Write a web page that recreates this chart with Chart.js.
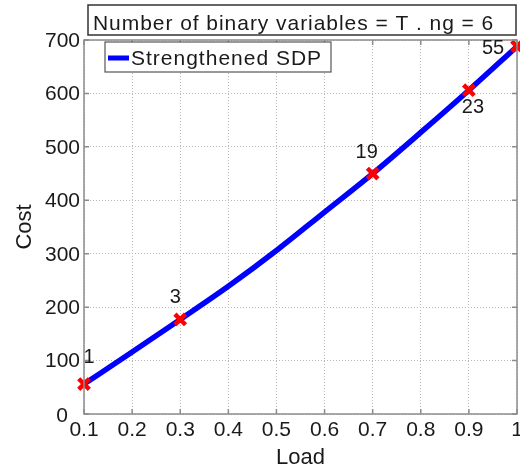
<!DOCTYPE html>
<html>
<head>
<meta charset="utf-8">
<script src="https://cdn.jsdelivr.net/npm/chart.js@4"></script>
<style>
  html, body { margin: 0; padding: 0; background: #fff; }
  #wrap { width: 520px; height: 473px; }
</style>
</head>
<body>
<div id="wrap"><canvas id="cost-chart" width="520" height="473"></canvas></div>
<script>
// Cost vs load for the strengthened SDP relaxation
const loads = [0.1, 0.2, 0.3, 0.4, 0.5, 0.6, 0.7, 0.8, 0.9, 1.0];
const costs = [56, 116, 177, 239, 306, 378, 450, 527, 606, 688];

// Loads where the solver result is marked, with the count shown beside it
const markedLoads = [0.1, 0.3, 0.7, 0.9, 1.0];
const markedCounts = ['1', '3', '19', '23', '55'];

const yTicks = [0, 100, 200, 300, 400, 500, 600, 700];
const boxTitle = 'Number of binary variables = T . ng = 6';
const seriesName = 'Strengthened SDP';

const FONT = '"Liberation Sans", Arial, Helvetica, sans-serif';
const TEXT = '#1a1a1a';
const FRAME = '#8c8c8c';

const curve = loads.map((x, i) => ({ x, y: costs[i] }));
const marks = markedLoads.map(x => ({ x, y: costs[loads.indexOf(x)] }));

// text offsets (px) of each count relative to its marker
const countOffsets = [[5, -27], [-5, -22], [-6, -21], [4, 17], [-24, 2]];

// box title, legend, frame, inward ticks, y labels, counts
const decorations = {
  id: 'decorations',
  afterDraw(chart) {
    const { ctx, chartArea: a, scales: { x, y } } = chart;
    ctx.save();

    // frame
    ctx.strokeStyle = FRAME;
    ctx.lineWidth = 1.5;
    ctx.strokeRect(a.left, a.top, a.right - a.left, a.bottom - a.top);

    // inward ticks
    ctx.beginPath();
    x.ticks.forEach(t => {
      const px = x.getPixelForValue(t.value);
      ctx.moveTo(px, a.bottom); ctx.lineTo(px, a.bottom - 5);
      ctx.moveTo(px, a.top); ctx.lineTo(px, a.top + 5);
    });
    y.ticks.forEach(t => {
      const py = y.getPixelForValue(t.value);
      ctx.moveTo(a.left, py); ctx.lineTo(a.left + 5, py);
      ctx.moveTo(a.right, py); ctx.lineTo(a.right - 5, py);
    });
    ctx.stroke();

    // y tick labels; the zero sits a little off the corner
    ctx.fillStyle = TEXT;
    ctx.font = '21px ' + FONT;
    ctx.textBaseline = 'middle';
    ctx.textAlign = 'right';
    y.ticks.forEach(t => {
      const py = y.getPixelForValue(t.value);
      if (t.value === 0) ctx.fillText('0', a.left - 16, py + 2);
      else ctx.fillText(String(t.value), a.left - 4, py + 1);
    });

    // counts next to the red markers
    ctx.font = '20px ' + FONT;
    ctx.textAlign = 'center';
    const meta = chart.getDatasetMeta(1);
    meta.data.forEach((pt, i) => {
      const [dx, dy] = countOffsets[i];
      ctx.fillText(markedCounts[i], pt.x + dx, pt.y + dy);
    });

    // title box
    const bl = a.left + 4, br = a.right - 1, bt = 5, bb = 35;
    ctx.fillStyle = '#fff';
    ctx.fillRect(bl, bt, br - bl, bb - bt);
    ctx.strokeStyle = '#333';
    ctx.lineWidth = 1.5;
    ctx.strokeRect(bl, bt, br - bl, bb - bt);
    ctx.fillStyle = TEXT;
    ctx.font = '21px ' + FONT;
    ctx.letterSpacing = '0.95px';
    ctx.textAlign = 'left';
    ctx.textBaseline = 'alphabetic';
    ctx.fillText(boxTitle, bl + 5, 29.5);

    // legend
    const ll = 105, lt = 42, lr = 331, lb = 72;
    ctx.fillStyle = '#fff';
    ctx.fillRect(ll, lt, lr - ll, lb - lt);
    ctx.strokeStyle = '#555';
    ctx.lineWidth = 1.2;
    ctx.strokeRect(ll, lt, lr - ll, lb - lt);
    ctx.strokeStyle = '#0000ff';
    ctx.lineWidth = 5;
    ctx.beginPath();
    ctx.moveTo(108, 58); ctx.lineTo(129, 58);
    ctx.stroke();
    ctx.fillStyle = TEXT;
    ctx.letterSpacing = '1px';
    ctx.fillText(seriesName, 131, 65);

    ctx.restore();
  }
};

new Chart(document.getElementById('cost-chart'), {
  type: 'scatter',
  data: {
    datasets: [
      {
        label: seriesName,
        data: curve,
        showLine: true,
        borderColor: '#0000ff',
        backgroundColor: '#0000ff',
        borderWidth: 5.5,
        pointRadius: 0,
        cubicInterpolationMode: 'monotone',
        clip: 8,
        order: 2
      },
      {
        label: 'marked',
        data: marks,
        showLine: false,
        pointStyle: 'crossRot',
        pointRadius: 7.5,
        pointBorderWidth: 4.5,
        borderColor: '#ff0000',
        backgroundColor: '#ff0000',
        clip: 12,
        order: 1
      }
    ]
  },
  options: {
    responsive: false,
    animation: false,
    layout: { autoPadding: false, padding: { left: 0, top: 40, right: 3, bottom: 0 } },
    plugins: {
      legend: { display: false },
      tooltip: { enabled: false }
    },
    scales: {
      x: {
        type: 'linear',
        min: 0.1,
        max: 1,
        afterFit: s => {
          s.height = 59;
          s.paddingLeft = 0;
          s.paddingRight = 0;
        },
        ticks: {
          stepSize: 0.1,
          padding: 4,
          color: TEXT,
          font: { family: FONT, size: 21 },
          callback: v => String(+v.toFixed(1))
        },
        grid: { color: '#b8b8b8', lineWidth: 1, drawTicks: false, tickLength: 0 },
        border: { display: false, dash: [1, 2] },
        title: {
          display: true,
          text: 'Load',
          color: TEXT,
          font: { family: FONT, size: 22 },
          padding: { top: 0, bottom: 2 }
        }
      },
      y: {
        min: 0,
        max: 700,
        afterFit: s => {
          s.width = 84;
          s.paddingTop = 0;
          s.paddingBottom = 0;
        },
        afterBuildTicks: s => { s.ticks = yTicks.map(value => ({ value })); },
        ticks: { display: false },
        grid: { color: '#b8b8b8', lineWidth: 1, drawTicks: false, tickLength: 0 },
        border: { display: false, dash: [1, 2] },
        title: {
          display: true,
          text: 'Cost',
          color: TEXT,
          font: { family: FONT, size: 22 },
          padding: { top: 12, bottom: 0 }
        }
      }
    }
  },
  plugins: [decorations]
});
</script>
</body>
</html>
